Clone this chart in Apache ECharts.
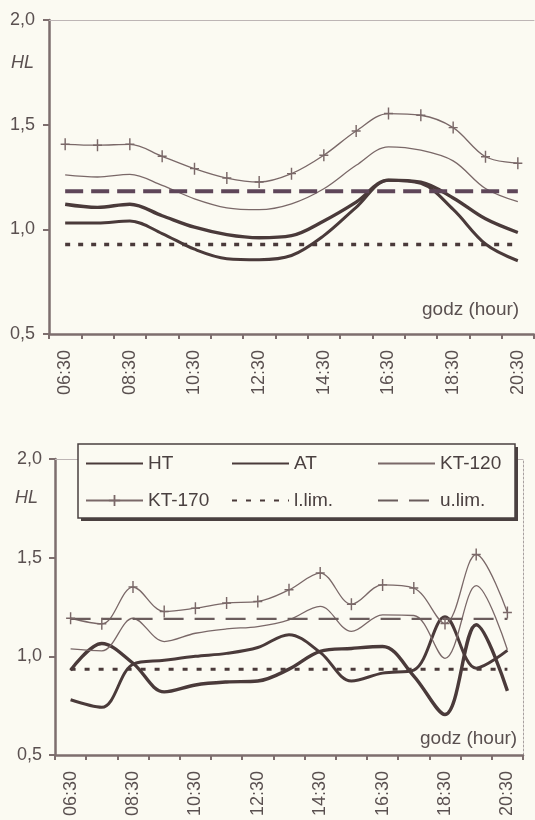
<!DOCTYPE html>
<html><head><meta charset="utf-8">
<script src="https://cdn.jsdelivr.net/npm/echarts@6/dist/echarts.min.js"></script>
<style>html,body{margin:0;padding:0;background:#fbfaf2}#c{width:535px;height:820px}</style>
</head><body><div id="c"></div>
<script>
const hours = ['06:30','07:30','08:30','09:30','10:30','11:30','12:30','13:30','14:30','15:30','16:30','17:30','18:30','19:30','20:30'];
const yTicks = [0.5, 1.0, 1.5, 2.0];
const legendNames = ['HT','AT','KT-120','KT-170','l.lim.','u.lim.'];

// upper chart
const topHT    = [1.12, 1.105, 1.12, 1.065, 1.01, 0.975, 0.96, 0.97, 1.04, 1.13, 1.235, 1.225, 1.15, 1.05, 0.985];
const topAT    = [1.03, 1.03, 1.04, 0.98, 0.905, 0.86, 0.855, 0.875, 0.97, 1.105, 1.235, 1.22, 1.095, 0.93, 0.85];
const topKT120 = [1.26, 1.25, 1.263, 1.21, 1.146, 1.103, 1.094, 1.122, 1.194, 1.306, 1.394, 1.378, 1.327, 1.195, 1.132];
const topKT170 = [1.406, 1.402, 1.406, 1.349, 1.29, 1.245, 1.226, 1.266, 1.354, 1.47, 1.553, 1.545, 1.486, 1.347, 1.316];
const topLLim  = [0.927, 0.927, 0.927, 0.927, 0.927, 0.927, 0.927, 0.927, 0.927, 0.927, 0.927, 0.927, 0.927, 0.927, 0.927];
const topULim  = [1.182, 1.182, 1.182, 1.182, 1.182, 1.182, 1.182, 1.182, 1.182, 1.182, 1.182, 1.182, 1.182, 1.182, 1.182];

// lower chart
const botHT    = [0.93, 1.065, 0.965, 0.82, 0.855, 0.87, 0.875, 0.935, 1.025, 1.04, 1.05, 0.90, 0.705, 1.16, 0.825];
const botAT    = [0.78, 0.742, 0.96, 0.98, 1.0, 1.015, 1.045, 1.11, 1.02, 0.875, 0.915, 0.93, 1.20, 0.94, 1.03];
const botKT120 = [1.038, 1.028, 1.193, 1.075, 1.117, 1.139, 1.151, 1.185, 1.253, 1.126, 1.21, 1.207, 0.99, 1.358, 1.033];
const botKT170 = [1.193, 1.165, 1.351, 1.227, 1.244, 1.27, 1.278, 1.337, 1.422, 1.264, 1.362, 1.346, 1.166, 1.516, 1.222];
const botLLim  = [0.935, 0.935, 0.935, 0.935, 0.935, 0.935, 0.935, 0.935, 0.935, 0.935, 0.935, 0.935, 0.935, 0.935, 0.935];
const botULim  = [1.19, 1.19, 1.19, 1.19, 1.19, 1.19, 1.19, 1.19, 1.19, 1.19, 1.19, 1.19, 1.19, 1.19, 1.19];

const FONT = 'Liberation Sans, Arial, sans-serif';
const TXT = '#5a5050';
const AXIS = '#7d6e6e';
const THICK = '#4a3a3a';
const THIN = '#7a6868';
const BG = '#fbfaf2';
const PLUS = 'path://M4.2,0H5.8V4.4H10V5.6H5.8V10H4.2V5.6H0V4.4H4.2Z';

function xAxisMain(grid){
  return {type:'category', gridIndex:grid, data:hours, boundaryGap:true, position:'bottom',
    axisLine:{lineStyle:{color:AXIS, width:2.5}},
    axisTick:{show:true, interval:0, length:5, lineStyle:{color:AXIS, width:2}},
    axisLabel:{interval:1, rotate:90, margin:16, fontSize:18, fontFamily:FONT, color:TXT},
    splitLine:{show:false}};
}
function xAxisTop(grid){
  return {type:'category', gridIndex:grid, data:hours, position:'top',
    axisLine:{lineStyle:{color:'#bdb5b5', width:1}}, axisTick:{show:false}, axisLabel:{show:false}, splitLine:{show:false}};
}
function yAxisMain(grid, margin){
  return {type:'value', gridIndex:grid, min:yTicks[0], max:yTicks[yTicks.length-1], interval:0.5,
    axisLine:{show:true, lineStyle:{color:AXIS, width:2.5}},
    axisTick:{show:true, length:6, lineStyle:{color:AXIS, width:2}},
    axisLabel:{margin:margin, fontSize:18, fontFamily:FONT, color:TXT, formatter:v=>v.toFixed(1).replace('.',',')},
    splitLine:{show:false}};
}

function line(name, data, xi, yi, ls, extra){
  return Object.assign({name, type:'line', data, xAxisIndex:xi, yAxisIndex:yi, smooth:0.35,
    symbol:'none', lineStyle:ls, itemStyle:{color:ls.color}, emphasis:{disabled:true}, animation:false}, extra||{});
}

const series = [
  // lower chart first (legend takes its styles)
  line('HT', botHT, 2, 1, {color:THICK, width:3.4}),
  line('AT', botAT, 2, 1, {color:THICK, width:3}),
  line('KT-120', botKT120, 2, 1, {color:THIN, width:1.3}),
  line('KT-170', botKT170, 2, 1, {color:THIN, width:1.3}, {symbol:PLUS, symbolSize:[9,12], showSymbol:true, itemStyle:{color:THIN}}),
  line('l.lim.', botLLim, 2, 1, {color:THICK, width:3, type:[5,9]}, {smooth:false}),
  line('u.lim.', botULim, 2, 1, {color:'#6a5c5c', width:2.2, type:[20,11]}, {smooth:false}),
  // upper chart
  line('HT', topHT, 0, 0, {color:THICK, width:3.4}),
  line('AT', topAT, 0, 0, {color:THICK, width:3}),
  line('KT-120', topKT120, 0, 0, {color:THIN, width:1.3}),
  line('KT-170', topKT170, 0, 0, {color:THIN, width:1.3}, {symbol:PLUS, symbolSize:[9,12], showSymbol:true, itemStyle:{color:THIN}}),
  line('l.lim.', topLLim, 0, 0, {color:THICK, width:3.5, type:[5,8]}, {smooth:false}),
  line('u.lim.', topULim, 0, 0, {color:'#5e4659', width:4, type:[18,8]}, {smooth:false})
];

const legendData = legendNames.map(n => n === 'KT-170'
  ? {name:n, itemStyle:{opacity:1}}
  : {name:n, itemStyle:{opacity:0}});

const chart = echarts.init(document.getElementById('c'), null, {renderer:'canvas'});
chart.setOption({
  backgroundColor:BG,
  animation:false,
  grid:[
    {left:49, right:1, top:20, bottom:486},
    {left:55, right:12, top:459, bottom:65}
  ],
  xAxis:[xAxisMain(0), xAxisTop(0), xAxisMain(1), xAxisTop(1)],
  yAxis:[yAxisMain(0, 14), yAxisMain(1, 13),
    {type:'value', gridIndex:1, position:'right', min:0.5, max:2.0, interval:0.5,
     axisLine:{show:true, lineStyle:{color:'#a8a0a0', width:1, type:[2,2]}}, axisTick:{show:false}, axisLabel:{show:false}, splitLine:{show:false}}],
  legend:{
    data:legendData, left:77, top:448, width:430, orient:'horizontal',
    padding:[2,6,2,8], itemGap:10, itemWidth:57, itemHeight:14, z:6,
    selectedMode:false,
    textStyle:{fontSize:19, fontFamily:FONT, color:'#4a4040', width:73, lineHeight:27}
  },
  graphic:[
    {type:'rect', z:4, shape:{x:81, y:447, width:437, height:74}, style:{fill:'#4a4040'}},
    {type:'rect', z:5, shape:{x:78, y:444, width:437, height:74}, style:{fill:BG, stroke:'#4a4040', lineWidth:1.5}},
    {type:'text', left:11, top:54, style:{text:'HL', font:'italic 18px Liberation Sans, Arial, sans-serif', fill:TXT}},
    {type:'text', left:422, top:300, style:{text:'godz (hour)', font:'19px Liberation Sans, Arial, sans-serif', fill:TXT}},
    {type:'text', left:15, top:489, style:{text:'HL', font:'italic 18px Liberation Sans, Arial, sans-serif', fill:TXT}},
    {type:'text', left:420, top:729, style:{text:'godz (hour)', font:'19px Liberation Sans, Arial, sans-serif', fill:TXT}}
  ],
  series
});
</script></body></html>
